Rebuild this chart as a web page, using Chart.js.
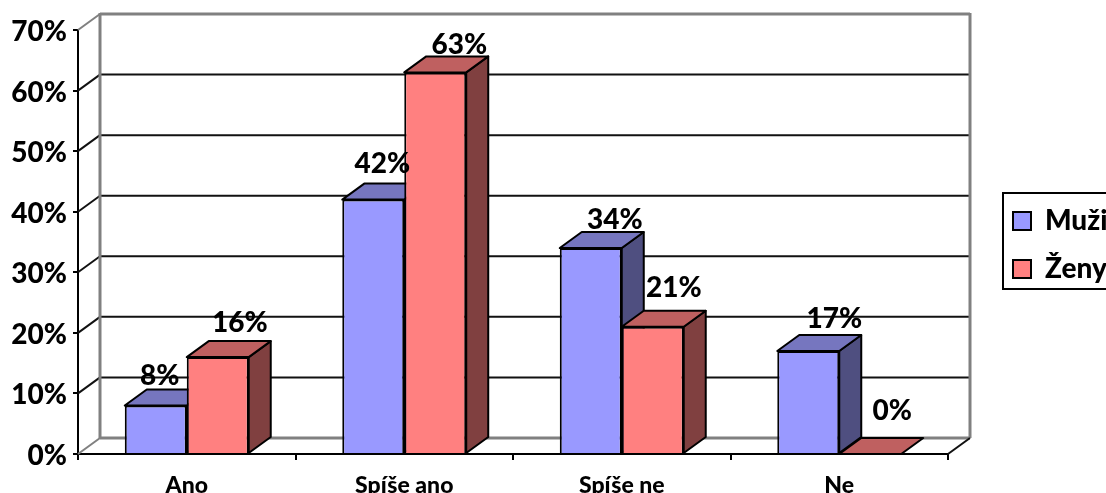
<!DOCTYPE html>
<html><head><meta charset="utf-8">
<style>html,body{margin:0;padding:0;background:#fff;overflow:hidden}canvas{display:block}</style>
<script src="https://cdn.jsdelivr.net/npm/chart.js@4"></script>
</head><body><canvas id="c" width="1106" height="493"></canvas>
<script>
const categories = ['Ano', 'Spíše ano', 'Spíše ne', 'Ne'];
const muzi = [8, 42, 34, 17];
const zeny = [16, 63, 21, 0];
const seriesNames = ['Muži', 'Ženy'];
const yTicks = [0, 10, 20, 30, 40, 50, 60, 70];
// hand placement of the value labels, relative to the bar's top centre
const labelDx = [[4, 9, 24, 26], [22, 24, 21, 22]];
const labelDy = [[-30, -36, -28, -32], [-34, -27, -39, -43]];

const DX = 22, DY = 16;
const FONT = 'Lato, Carlito, sans-serif';
const faces = [
  {front: '#9999FF', top: '#7676BF', side: '#4F4F80'},
  {front: '#FF8080', top: '#BF6060', side: '#804040'}
];

function poly(ctx, pts, fill) {
  ctx.beginPath();
  pts.forEach((p, i) => i ? ctx.lineTo(p[0], p[1]) : ctx.moveTo(p[0], p[1]));
  ctx.closePath();
  ctx.fillStyle = fill;
  ctx.fill();
  ctx.stroke();
}
function seg(ctx, x1, y1, x2, y2, color, w) {
  ctx.beginPath(); ctx.moveTo(x1, y1); ctx.lineTo(x2, y2);
  ctx.strokeStyle = color; ctx.lineWidth = w; ctx.stroke();
}

const scene = {
  id: 'scene',
  afterLayout(chart) {
    const l = chart.legend;
    l.left = 993; l.right = 1400; l.top = 187; l.bottom = 500;
    l.width = 407; l.height = 313;
  },
  beforeDatasetsDraw(chart) {
    const {ctx, chartArea: a, scales: {y}} = chart;
    const L = a.left, R = a.right, B = a.right + DX;
    ctx.save();
    ctx.lineCap = 'butt';
    // back wall and gridlines, taken from the value scale
    y.ticks.forEach(t => {
      const py = y.getPixelForValue(t.value);
      const edge = t.value === 0 || t.value === y.max;
      const col = edge ? '#808080' : '#111111';
      seg(ctx, L, py, L + DX, py - DY, col, 2);
      seg(ctx, L + DX, py - DY, B, py - DY, col, edge ? 3 : 2);
    });
    const top = y.getPixelForValue(y.max) - DY, bot = y.getPixelForValue(0) - DY;
    seg(ctx, L + DX, top - 1, L + DX, bot, '#808080', 3);
    seg(ctx, B, top - 1, B, bot, '#808080', 3);
    seg(ctx, R, a.bottom, B, bot, '#111111', 2);
    // 3D faces of bars
    ctx.strokeStyle = '#000'; ctx.lineWidth = 2; ctx.lineJoin = 'round';
    categories.forEach((_, i) => {
      chart.data.datasets.forEach((ds, d) => {
        const el = chart.getDatasetMeta(d).data[i];
        const hw = el.width / 2, x0 = el.x - hw, x1 = el.x + hw, yt = el.y, yb = el.base;
        if (yb - yt > 0.5) {
          poly(ctx, [[x1, yt], [x1 + DX, yt - DY], [x1 + DX, yb - DY], [x1, yb]], faces[d].side);
        }
        poly(ctx, [[x0, yt], [x1, yt], [x1 + DX, yt - DY], [x0 + DX, yt - DY]], faces[d].top);
      });
    });
    ctx.restore();
  },
  afterDatasetsDraw(chart) {
    const {ctx} = chart;
    ctx.save();
    ctx.font = '900 28px ' + FONT;
    ctx.fillStyle = '#000';
    ctx.textAlign = 'center';
    ctx.textBaseline = 'middle';
    chart.data.datasets.forEach((ds, d) => {
      chart.getDatasetMeta(d).data.forEach((el, i) => {
        ctx.fillText(ds.data[i] + '%', el.x + labelDx[d][i], el.y + labelDy[d][i]);
      });
    });
    ctx.restore();
  },
  afterDraw(chart) {
    const {ctx} = chart;
    ctx.save();
    ctx.strokeStyle = '#000'; ctx.lineWidth = 2;
    ctx.strokeRect(1003, 193, 200, 96);
    ctx.restore();
  }
};

new Chart(document.getElementById('c'), {
  type: 'bar',
  data: {
    labels: categories,
    datasets: [
      {label: seriesNames[0], data: muzi, backgroundColor: faces[0].front, borderColor: '#000', borderWidth: 2},
      {label: seriesNames[1], data: zeny, backgroundColor: faces[1].front, borderColor: '#000', borderWidth: 2}
    ]
  },
  plugins: [scene],
  options: {
    responsive: false,
    animation: false,
    layout: {padding: {left: 0, top: 30, right: 158, bottom: 0}},
    categoryPercentage: 0.57,
    barPercentage: 1,
    plugins: {
      tooltip: {enabled: false},
      title: {display: false},
      legend: {
        position: 'chartArea',
        align: 'start',
        labels: {
          color: '#000',
          font: {family: FONT, weight: '900', size: 28},
          boxWidth: 18, boxHeight: 18, padding: 20
        }
      }
    },
    scales: {
      x: {
        afterFit(s) { s.height = 39; },
        grid: {drawOnChartArea: false, color: '#000', lineWidth: 2, tickLength: 6},
        border: {color: '#000', width: 2},
        ticks: {color: '#000', font: {family: FONT, weight: '900', size: 23}, padding: 12, maxRotation: 0}
      },
      y: {
        min: 0, max: yTicks[yTicks.length - 1],
        afterFit(s) { s.width = 78; },
        grid: {drawOnChartArea: false, color: '#000', lineWidth: 2, tickLength: 5},
        border: {color: '#000', width: 2},
        ticks: {
          stepSize: yTicks[1] - yTicks[0],
          color: '#000',
          font: {family: FONT, weight: '900', size: 28},
          padding: 6,
          labelOffset: 2,
          callback: v => v + '%'
        }
      }
    }
  }
});
</script></body></html>
